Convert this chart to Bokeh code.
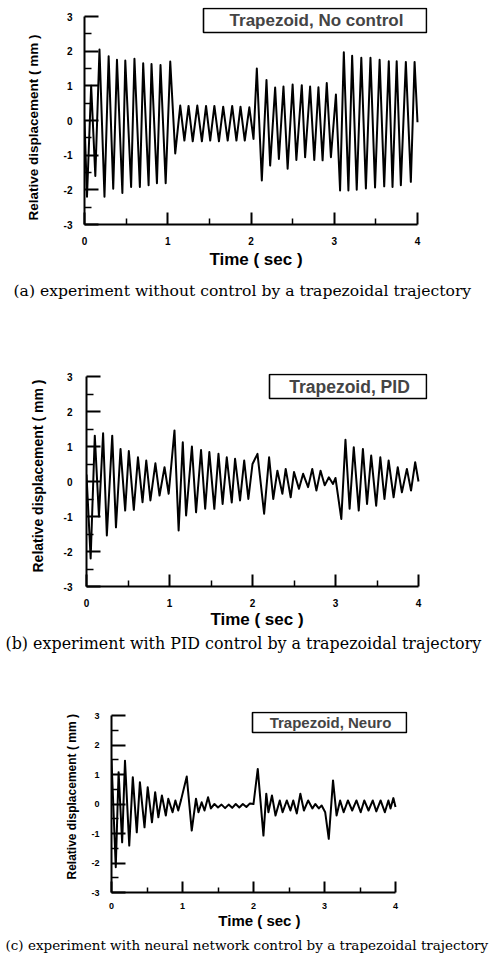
import math
from bokeh.plotting import figure
from bokeh.models import Range1d, FixedTicker, Label, BoxAnnotation, Title
from bokeh.layouts import column
from bokeh.embed import file_html
from bokeh.resources import INLINE

# ---------------- data (successive peaks / troughs) ----------------
t_a = [0.00, 0.03, 0.08, 0.13, 0.18, 0.24, 0.29, 0.345, 0.39, 0.455, 0.49, 0.56, 0.60, 0.665, 0.705,
       0.77, 0.805, 0.87, 0.913, 0.975, 1.03, 1.09, 1.15, 1.20, 1.25, 1.30, 1.355, 1.41, 1.46, 1.51,
       1.56, 1.615, 1.666, 1.72, 1.774, 1.825, 1.874, 1.925, 1.98, 2.03, 2.07, 2.13, 2.186, 2.23, 2.29,
       2.335, 2.39, 2.44, 2.50, 2.545, 2.61, 2.65, 2.71, 2.76, 2.81, 2.86, 2.91, 2.96, 3.02, 3.07,
       3.115, 3.17, 3.215, 3.27, 3.325, 3.38, 3.435, 3.49, 3.545, 3.60, 3.655, 3.70, 3.75, 3.80, 3.86,
       3.92, 3.965, 4.0]
v_a = [0.0, -2.2, 1.0, -1.6, 2.05, -2.2, 1.85, -1.97, 1.75, -2.09, 1.73, -1.92, 1.78, -1.92, 1.65,
       -1.87, 1.63, -1.81, 1.6, -1.81, 1.7, -0.95, 0.43, -0.58, 0.42, -0.6, 0.43, -0.6, 0.42, -0.58,
       0.42, -0.6, 0.4, -0.58, 0.42, -0.58, 0.4, -0.58, 0.38, -0.53, 1.5, -1.73, 1.17, -1.3, 0.95,
       -1.11, 0.98, -1.39, 1.04, -1.14, 1.02, -1.06, 0.98, -1.14, 0.96, -1.15, 1.08, -1.06, 0.75, -2.02,
       1.97, -2.02, 1.87, -2.0, 1.81, -1.96, 1.81, -1.93, 1.75, -1.90, 1.71, -1.92, 1.71, -1.87, 1.69,
       -1.77, 1.69, -0.05]

t_b = [0.0, 0.05, 0.10, 0.15, 0.20, 0.245, 0.31, 0.355, 0.41, 0.466, 0.51, 0.57, 0.62, 0.675, 0.72,
       0.77, 0.83, 0.88, 0.94, 0.99, 1.06, 1.11, 1.16, 1.20, 1.27, 1.32, 1.38, 1.43, 1.48, 1.54,
       1.59, 1.64, 1.69, 1.75, 1.79, 1.85, 1.90, 1.95, 2.0, 2.06, 2.14, 2.20, 2.25, 2.30, 2.36,
       2.40, 2.46, 2.50, 2.56, 2.61, 2.67, 2.72, 2.77, 2.82, 2.87, 2.92, 2.97, 3.0, 3.07, 3.12,
       3.17, 3.22, 3.28, 3.33, 3.38, 3.43, 3.49, 3.54, 3.59, 3.64, 3.70, 3.75, 3.80, 3.86, 3.91,
       3.96, 4.0]
v_b = [0.2, -2.2, 1.31, -1.0, 1.38, -1.54, 1.31, -1.31, 0.93, -0.83, 0.87, -0.81, 0.69, -0.59, 0.60,
       -0.54, 0.52, -0.40, 0.41, -0.35, 1.46, -1.40, 1.12, -0.97, 1.0, -0.88, 0.9, -0.78, 0.84, -0.78,
       0.79, -0.64, 0.69, -0.60, 0.65, -0.54, 0.60, -0.50, 0.50, 0.79, -0.92, 0.69, -0.50, 0.31, -0.35,
       0.36, -0.45, 0.27, -0.21, 0.22, -0.16, 0.36, -0.26, 0.31, -0.11, 0.12, -0.07, 0.1, -1.07, 1.19,
       -0.78, 0.98, -0.83, 0.93, -0.64, 0.74, -0.69, 0.69, -0.50, 0.60, -0.45, 0.41, -0.31, 0.36, -0.26,
       0.55, 0.0]

t_c = [0.0, 0.06, 0.10, 0.15, 0.19, 0.25, 0.30, 0.356, 0.40, 0.465, 0.51, 0.57, 0.615, 0.66, 0.71,
       0.765, 0.80, 0.86, 0.90, 0.94, 0.98, 1.06, 1.13, 1.19, 1.225, 1.27, 1.31, 1.36, 1.40, 1.45,
       1.50, 1.55, 1.60, 1.65, 1.70, 1.75, 1.80, 1.85, 1.90, 1.95, 2.0, 2.06, 2.14, 2.18, 2.21,
       2.26, 2.31, 2.37, 2.41, 2.47, 2.52, 2.56, 2.61, 2.66, 2.71, 2.77, 2.83, 2.87, 2.92, 2.96,
       3.01, 3.06, 3.12, 3.17, 3.22, 3.27, 3.33, 3.39, 3.45, 3.51, 3.56, 3.62, 3.68, 3.73, 3.79,
       3.85, 3.90, 3.93, 3.97, 4.0]
v_c = [1.5, -2.14, 1.08, -1.3, 1.47, -1.41, 0.91, -0.96, 0.74, -0.79, 0.57, -0.62, 0.40, -0.45, 0.29,
       -0.39, 0.18, -0.28, 0.12, -0.22, 0.14, 0.93, -0.90, 0.18, -0.28, 0.06, -0.22, 0.23, -0.15, 0.0,
       -0.12, -0.02, -0.14, -0.02, -0.13, 0.0, -0.12, 0.0, -0.1, 0.02, 0.0, 1.19, -1.07, 0.35, -0.28,
       0.29, -0.39, 0.12, -0.28, 0.12, -0.22, 0.12, -0.32, 0.35, -0.22, 0.12, -0.15, 0.0, -0.15, -0.05,
       -0.28, -1.18, 0.80, -0.39, 0.12, -0.28, 0.12, -0.22, 0.12, -0.28, 0.12, -0.22, 0.12, -0.25, 0.12,
       -0.28, 0.12, -0.15, 0.2, -0.1]

x_ticks = [0, 1, 2, 3, 4]
x_tick_labels = ["0", "1", "2", "3", "4"]
x_minor = [0.5, 1.5, 2.5, 3.5]
y_ticks = [-3, -2, -1, 0, 1, 2, 3]
y_tick_labels = ["-3", "-2", "-1", "0", "1", "2", "3"]
y_minor = [-2.5, -1.5, -0.5, 0.5, 1.5, 2.5]

x_label = "Time ( sec )"
y_label = "Relative displacement ( mm )"
legend_a = "Trapezoid, No control"
legend_b = "Trapezoid, PID"
legend_c = "Trapezoid, Neuro"
caption_a = "(a) experiment without control by a trapezoidal trajectory"
caption_b = "(b) experiment with PID control by a trapezoidal trajectory"
caption_c = "(c) experiment with neural network control by a trapezoidal trajectory"

SANS = "Liberation Sans"
SERIF = "DejaVu Serif"


def panel(t, v, L):
    # L: page-pixel layout of one panel
    px_x = (L["x4"] - L["x0"]) / 4.0          # pixels per second
    px_y = (L["ym3"] - L["y3"]) / 6.0         # pixels per mm
    fl, fr, ft, fb = L["x0"], L["leg"][1], L["leg"][2], L["ym3"]   # frame edges
    x_max = 4 + (fr - L["x4"]) / px_x
    y_max = 3 + (L["y3"] - ft) / px_y
    p = figure(frame_width=fr - fl, frame_height=fb - ft,
               x_range=Range1d(0, x_max), y_range=Range1d(-3, y_max),
               output_backend="svg", toolbar_location=None,
               min_border_left=fl, min_border_right=494 - fr,
               min_border_top=ft - L["top"], min_border_bottom=L["bottom"] - fb)
    p.frame_align = False
    p.outline_line_color = None
    p.grid.visible = False
    p.background_fill_color = "white"
    p.border_fill_color = "white"

    p.line(t, v, line_color="black", line_width=2, line_join="round")

    xa = p.xaxis[0]
    xa.ticker = FixedTicker(ticks=x_ticks, minor_ticks=x_minor)
    xa.major_label_overrides = {k: s for k, s in zip(x_ticks, x_tick_labels)}
    xa.bounds = (0, 4)
    ya = p.yaxis[0]
    ya.ticker = FixedTicker(ticks=y_ticks, minor_ticks=y_minor)
    ya.major_label_overrides = {k: s for k, s in zip(y_ticks, y_tick_labels)}
    ya.bounds = (-3, 3)
    for ax, tin, mtin, sof in ((xa, L["xt"], L["xt"] // 2, L["xs"]), (ya, 14, 7, L["ys"])):
        ax.axis_line_width = 2
        ax.axis_line_color = "black"
        ax.major_tick_in = tin
        ax.major_tick_out = 0
        ax.minor_tick_in = mtin
        ax.minor_tick_out = 0
        ax.major_tick_line_width = 2
        ax.minor_tick_line_width = 1.5
        ax.major_label_text_font = SANS
        ax.major_label_text_font_style = "bold"
        ax.major_label_text_font_size = L["tfs"]
        ax.major_label_text_color = "black"
        ax.major_label_standoff = sof

    xa.axis_label = x_label
    xa.axis_label_text_font = SANS
    xa.axis_label_text_font_style = "bold"
    xa.axis_label_text_font_size = L["xfs"]
    xa.axis_label_text_color = "black"
    xa.axis_label_standoff = L["xls"]

    # y label as a left title, starting (bottom end) at the reference position
    p.add_layout(Title(text=y_label, align="left", offset=fb - L["yl_start"],
                       standoff=L["yls"], text_font=SANS, text_font_style="bold",
                       text_font_size=L["yfs"], text_color="black"), "left")

    # caption as a below title, starting at the reference left edge
    p.add_layout(Title(text=L["captext"], align="left", offset=L["cap_left"] - fl,
                       standoff=L["caps"], text_font=SERIF, text_font_style="normal",
                       text_font_size=L["cfs"], text_color="black"), "below")

    # legend box (screen units are relative to the frame's bottom-left corner)
    lb = L["leg"]
    p.add_layout(BoxAnnotation(left=lb[0] - fl, right=lb[1] - fl - 1, top=fb - lb[2] - 1,
                               bottom=fb - lb[3],
                               left_units="screen", right_units="screen", top_units="screen",
                               bottom_units="screen", fill_color="white", fill_alpha=1.0,
                               line_color="black", line_alpha=1.0, line_width=1.6))
    p.add_layout(Label(x=L["legt"][0] - fl, y=fb - L["legt"][1], x_units="screen", y_units="screen",
                       text=L["legtext"], text_font=SANS, text_font_style="bold",
                       text_font_size=L["lfs"], text_align="center", text_baseline="middle"))
    return p


# page coordinates of each panel (page pixels)
lay_a = dict(top=0, bottom=318, x0=84, x4=417, y3=16, ym3=224,
             xt=12, xs=12, ys=12, tfs="10px",
             leg=(203, 427, 7, 32), legt=(316, 20), legtext=legend_a, lfs="17px",
             yl_start=220, yfs="13.5px", yls=40, xfs="17px", xls=2,
             cap_left=13, captext=caption_a, cfs="15.6px", caps=16)
lay_b = dict(top=318, bottom=660, x0=86, x4=418, y3=376, ym3=586,
             xt=12, xs=12, ys=14, tfs="10px",
             leg=(269, 427, 373, 398), legt=(349, 386.5), legtext=legend_b, lfs="17.5px",
             yl_start=572, yfs="14px", yls=30, xfs="17px", xls=0,
             cap_left=5, captext=caption_b, cfs="15.9px", caps=0)
lay_c = dict(top=660, bottom=956, x0=111, x4=395, y3=715, ym3=892,
             xt=11, xs=10, ys=12, tfs="9px",
             leg=(252, 407, 711, 732), legt=(330, 722), legtext=legend_c, lfs="15px",
             yl_start=879, yfs="12px", yls=20, xfs="15px", xls=0,
             cap_left=5, captext=caption_c, cfs="13.5px", caps=6)

pa = panel(t_a, v_a, lay_a)
pb = panel(t_b, v_b, lay_b)
pc = panel(t_c, v_c, lay_c)

layout = column(pa, pb, pc, spacing=0)
open("out.html", "w").write(file_html(layout, INLINE))
